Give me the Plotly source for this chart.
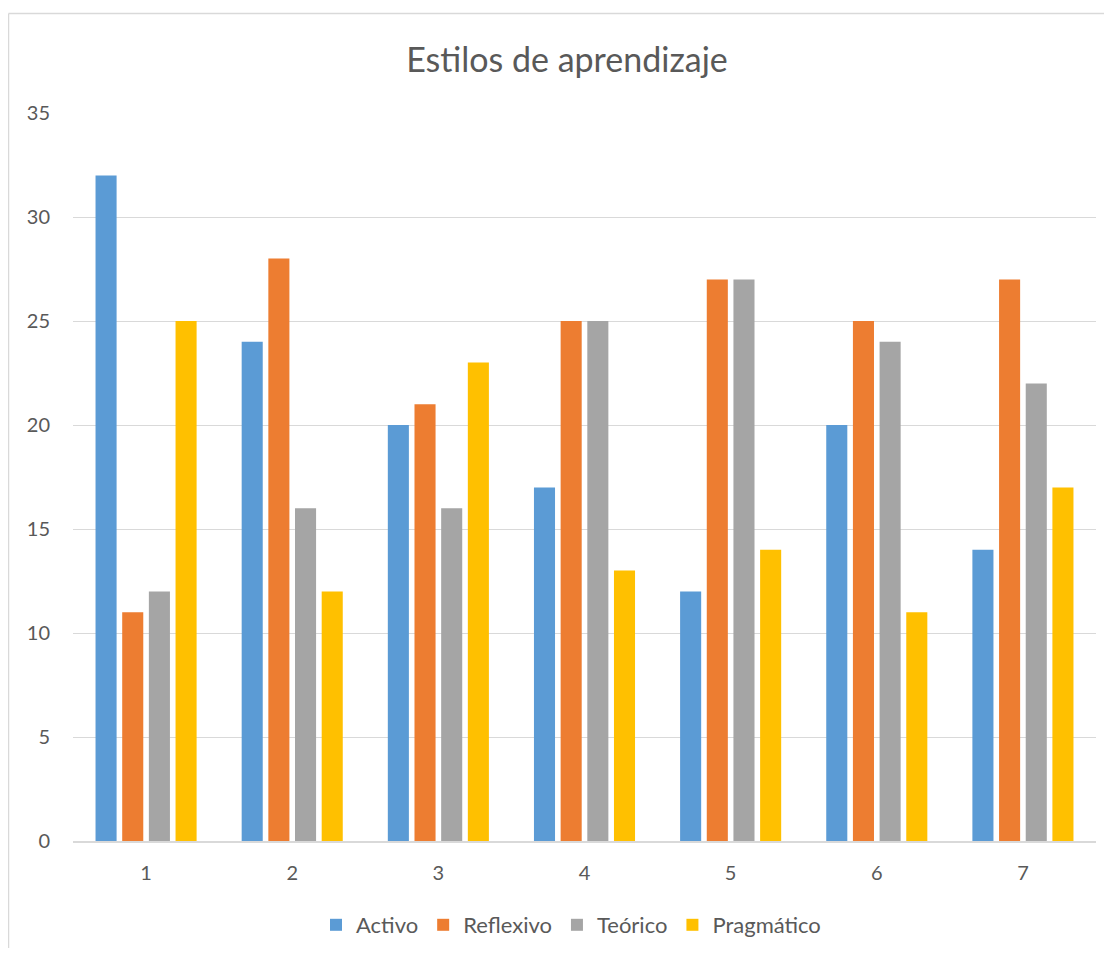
import plotly.graph_objects as go

categories = ["1", "2", "3", "4", "5", "6", "7"]
activo = [32, 24, 20, 17, 12, 20, 14]
reflexivo = [11, 28, 21, 25, 27, 25, 27]
teorico = [12, 16, 16, 25, 27, 24, 22]
pragmatico = [25, 12, 23, 13, 14, 11, 17]
y_ticks = [0, 5, 10, 15, 20, 25, 30, 35]

series = [
    ("Activo", activo, "#5B9BD5"),
    ("Reflexivo", reflexivo, "#ED7D31"),
    ("Teórico", teorico, "#A5A5A5"),
    ("Pragmático", pragmatico, "#FFC000"),
]

fig = go.Figure()
for name, vals, col in series:
    fig.add_trace(go.Bar(x=categories, y=vals, name=name, marker=dict(color=col, line=dict(width=0))))

# page body has an 8px margin; work in screenshot coordinates and convert
OFF = 8
W, H = 1096, 940
PLOT_BOTTOM = 841
L, R, T, B = 73 - OFF, 8, 113 - OFF, 940 - (PLOT_BOTTOM - OFF)
pw = W - L - R
ph = H - T - B

def px(x):
    return (x - OFF - L) / pw

def py(y):
    return (H - B - (y - OFF)) / ph

def cx(x):
    return (x - OFF) / W

def cy(y):
    return 1 - (y - OFF) / H

fig.update_layout(
    width=W, height=H,
    margin=dict(l=L, r=R, t=T, b=B, autoexpand=False),
    paper_bgcolor="white", plot_bgcolor="white",
    font=dict(family="Lato, Open Sans, sans-serif", color="#595959", size=20),
    title=dict(text="Estilos de aprendizaje", x=cx(567), xanchor="center", xref="container",
               y=cy(60), yanchor="middle", yref="container",
               font=dict(size=34, color="#595959")),
    barmode="group", bargap=0.27, bargroupgap=0.21,
    showlegend=True,
    legend=dict(orientation="h", x=cx(571), xanchor="center", xref="container",
                y=cy(925), yanchor="middle", yref="container",
                font=dict(size=22, color="#595959"), itemwidth=30, traceorder="normal"),
    xaxis=dict(showgrid=False, showline=True, linecolor="#D9D9D9", linewidth=1.5, ticks="",
               tickfont=dict(size=20, color="#595959"), ticklabelstandoff=13),
    yaxis=dict(range=[0, 35], tickvals=y_ticks, showgrid=True, gridcolor="#D9D9D9", gridwidth=1.3,
               zeroline=False, showline=False, ticks="", tickfont=dict(size=20, color="#595959"),
               ticklabelstandoff=22),
    shapes=[
        dict(type="line", xref="paper", yref="paper", x0=px(8.5), x1=px(8.5), y0=py(13.5), y1=py(960),
             line=dict(color="#D9D9D9", width=1.5)),
        dict(type="line", xref="paper", yref="paper", x0=px(8.5), x1=px(1120), y0=py(13.5), y1=py(13.5),
             line=dict(color="#D9D9D9", width=1.5)),
    ],
)

fig.write_html("out.html")
